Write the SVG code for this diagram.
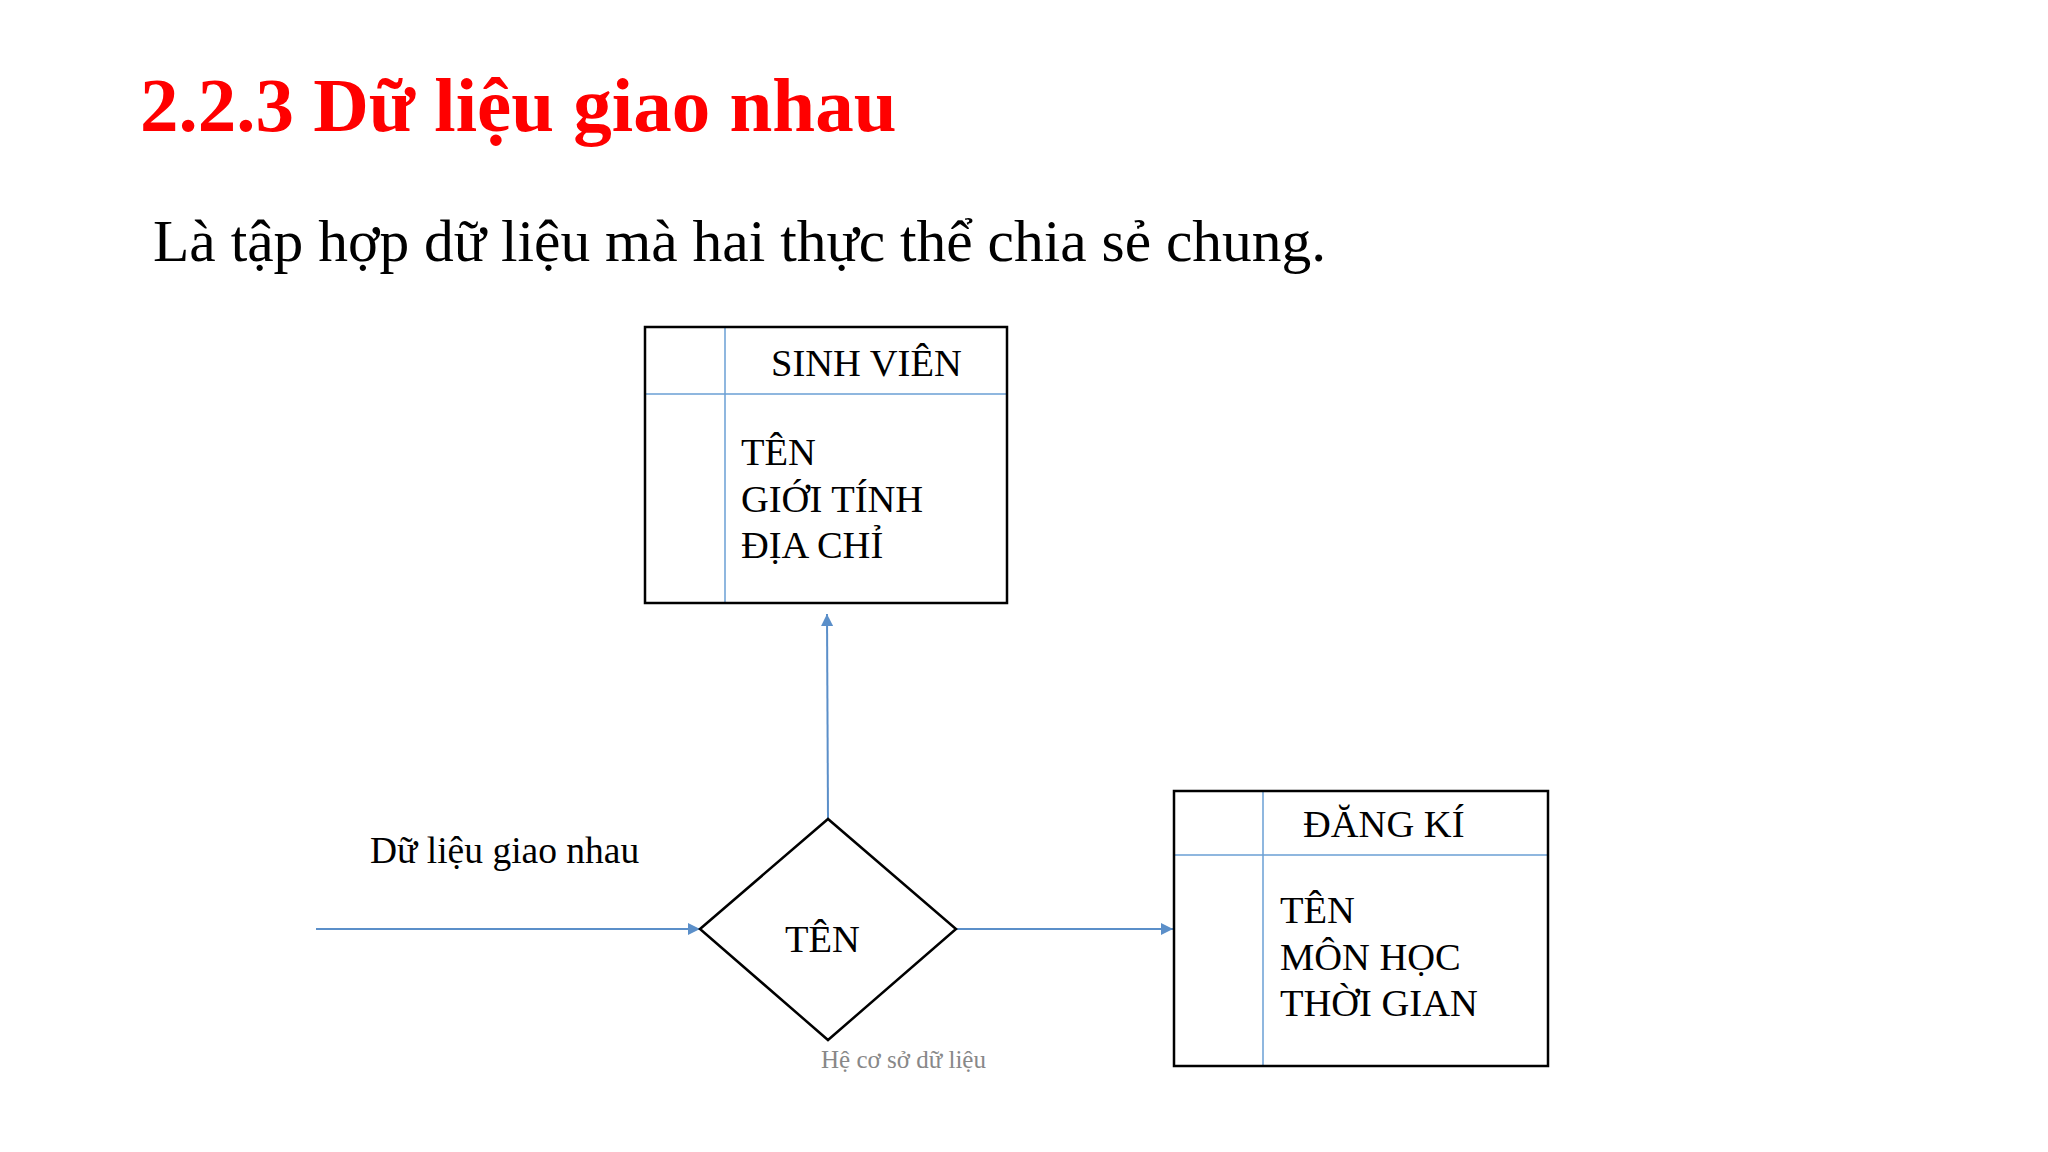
<svg xmlns="http://www.w3.org/2000/svg" width="2048" height="1152" viewBox="0 0 2048 1152">
<defs>
<style>
text{font-family:"Liberation Serif","Times New Roman",serif;fill:#000}
.box{fill:none;stroke:#000;stroke-width:2.5}
.div{stroke:#6a9fd4;stroke-width:1.5}
.conn{stroke:#5b8fc9;stroke-width:2;fill:none;marker-end:url(#ah)}
.lbl{font-size:38.5px}
</style>
<marker id="ah" viewBox="0 0 10 10" refX="10" refY="5" markerWidth="6" markerHeight="6" orient="auto"><path d="M0,0 L10,5 L0,10 z" fill="#5b8fc9"/></marker>
</defs>
<rect width="2048" height="1152" fill="#fff"/>
<text x="140" y="131" font-size="77" font-weight="bold" style="fill:#f00">2.2.3 Dữ liệu giao nhau</text>
<text x="153" y="261" font-size="59.5">Là tập hợp dữ liệu mà hai thực thể chia sẻ chung.</text>
<g id="connectors">
<line class="conn" x1="828" y1="819" x2="827" y2="614"/>
<line class="conn" x1="316" y1="929" x2="700" y2="929"/>
<line class="conn" x1="956" y1="929" x2="1173" y2="929"/>
</g>
<g id="sinhvien">
<line class="div" x1="645" y1="394" x2="1007" y2="394"/>
<line class="div" x1="725" y1="327" x2="725" y2="603"/>
<rect class="box" x="645" y="327" width="362" height="276"/>
<text class="lbl" x="771" y="376">SINH VIÊN</text>
<text class="lbl" x="741" y="465">TÊN</text>
<text class="lbl" x="741" y="512">GIỚI TÍNH</text>
<text class="lbl" x="741" y="558">ĐỊA CHỈ</text>
</g>
<g id="ten">
<polygon points="700,929 828,819 956,929 828,1040" fill="none" stroke="#000" stroke-width="2.5"/>
<text class="lbl" x="785" y="952">TÊN</text>
</g>
<g id="dangki">
<line class="div" x1="1174" y1="855" x2="1548" y2="855"/>
<line class="div" x1="1263" y1="791" x2="1263" y2="1066"/>
<rect class="box" x="1174" y="791" width="374" height="275"/>
<text class="lbl" x="1303" y="837">ĐĂNG KÍ</text>
<text class="lbl" x="1280" y="923">TÊN</text>
<text class="lbl" x="1280" y="970">MÔN HỌC</text>
<text class="lbl" x="1280" y="1016">THỜI GIAN</text>
</g>
<text x="370" y="863" font-size="37.5">Dữ liệu giao nhau</text>
<text x="821" y="1068" font-size="25" style="fill:#888">Hệ cơ sở dữ liệu</text>
</svg>
